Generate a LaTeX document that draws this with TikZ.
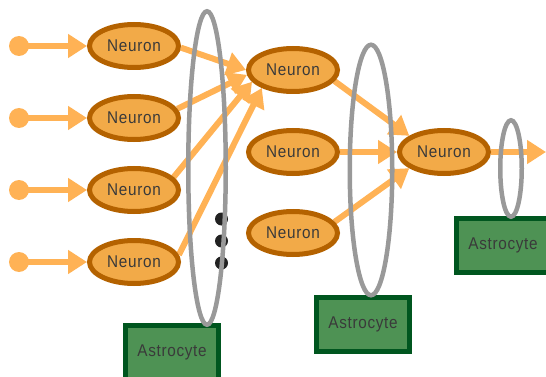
\documentclass[tikz,border=0pt]{standalone}
\usepackage{fontspec}
\setmainfont{Liberation Sans}[LetterSpace=4,FakeStretch=0.9]
\usetikzlibrary{shapes.geometric,arrows.meta,backgrounds}
\definecolor{arr}{HTML}{FFB255}
\definecolor{nfill}{HTML}{F2AA48}
\definecolor{nbord}{HTML}{B46200}
\definecolor{gfill}{HTML}{4E9254}
\definecolor{gbord}{HTML}{00561F}
\definecolor{graysyn}{HTML}{999999}
\definecolor{txt}{HTML}{3A3A3A}
\definecolor{dotc}{HTML}{222222}
\begin{document}
\begin{tikzpicture}[x=1pt,y=-1pt,
 neuron/.style={ellipse, draw=nbord, fill=nfill, line width=5pt, minimum width=89pt, minimum height=43pt, inner sep=0pt, font=\fontsize{17}{19}\selectfont, text=txt},
 astro/.style={rectangle, draw=gbord, fill=gfill, line width=5pt, minimum width=93pt, minimum height=54pt, inner sep=0pt, font=\fontsize{17}{19}\selectfont, text=txt},
 syn/.style={ellipse, draw=graysyn, line width=4.5pt, inner sep=0pt},
 sig/.style={draw=arr, line width=6pt, -{Triangle[length=19pt,width=23pt]}},
 src/.style={circle, fill=arr, minimum size=20pt, inner sep=0pt},
 blob/.style={circle, fill=dotc, minimum size=13pt, inner sep=0pt}]
\useasboundingbox (0,0) rectangle (546,377);

% input sources
\node[src] (s1) at (19,46) {};
\node[src] (s2) at (19,118) {};
\node[src] (s3) at (19,190) {};
\node[src] (s4) at (19,262) {};

% neurons
\node[neuron] (n11) at (134,46) {Neuron};
\node[neuron] (n12) at (134,118) {Neuron};
\node[neuron] (n13) at (134,190) {Neuron};
\node[neuron] (n14) at (134,262) {Neuron};
\node[neuron] (n21) at (293,70) {Neuron};
\node[neuron] (n22) at (293,152) {Neuron};
\node[neuron] (n23) at (293,233) {Neuron};
\node[neuron] (n3) at (444,152) {Neuron};
\coordinate (out) at (546,152);

% connectors
\begin{pgfonlayer}{background}
\draw[sig] (s1.center) -- (n11.west);
\draw[sig] (s2.center) -- (n12.west);
\draw[sig] (s3.center) -- (n13.west);
\draw[sig] (s4.center) -- (n14.west);
\draw[sig] (n11.-2) -- (n21.180);
\draw[sig] (n12.12) -- (n21.186);
\draw[sig] (n13.18) -- (n21.196);
\draw[sig] (n14.9) -- (n21.210);
\draw[sig] (n21.-15) -- (n3.155);
\draw[sig] (n22.east) -- (n3.west);
\draw[sig] (n23.15) -- (n3.205);
\draw[sig] (n3.east) -- (out);
\end{pgfonlayer}

% dots
\node[blob] (d1) at (221.5,219) {};
\node[blob] (d2) at (221.5,241) {};
\node[blob] (d3) at (221.5,263) {};

% astrocytes
\node[astro] (a1) at (172,352) {Astrocyte};
\node[astro] (a2) at (363,324.5) {Astrocyte};
\node[astro] (a3) at (503,245) {Astrocyte};

% astrocyte processes
\node[syn, minimum width=37.5pt, minimum height=313.5pt] (e1) at (207,168) {};
\node[syn, minimum width=42.5pt, minimum height=250.5pt] (e2) at (371,170) {};
\node[syn, minimum width=21.5pt, minimum height=96.5pt] (e3) at (511,168.5) {};
\end{tikzpicture}
\end{document}
